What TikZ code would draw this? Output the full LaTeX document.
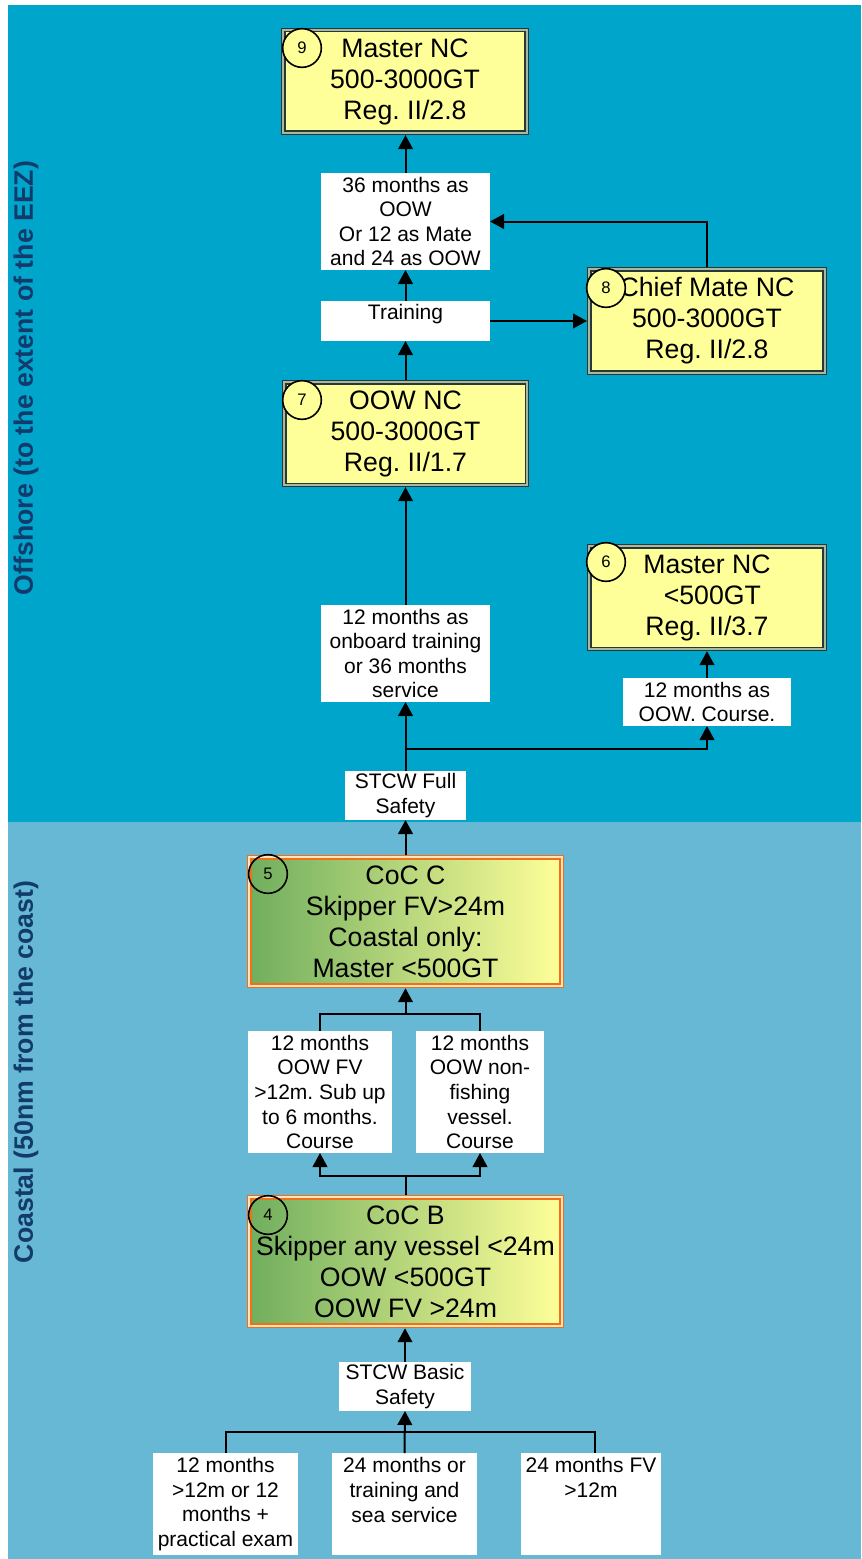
\documentclass[tikz,border=0pt]{standalone}
\usepackage{fontspec}
\setmainfont{Liberation Sans}
\usetikzlibrary{arrows.meta}
\definecolor{bgtop}{RGB}{0,165,204}
\definecolor{bgbot}{RGB}{102,184,212}
\definecolor{boxy}{RGB}{255,255,153}
\definecolor{boxline}{RGB}{40,56,56}
\definecolor{boxgap}{RGB}{170,184,160}
\definecolor{orng}{RGB}{240,112,24}
\definecolor{orgap}{RGB}{255,228,190}
\definecolor{grn}{RGB}{112,174,94}
\definecolor{grmid}{RGB}{218,230,140}
\definecolor{navy}{RGB}{18,58,106}
\frenchspacing
\begin{document}
\begin{tikzpicture}[x=0.75pt,y=-0.75pt,
  ybox/.style={rectangle, draw=boxline, line width=1.1pt, double=boxgap, double distance=1.3pt,
    fill=boxy, inner sep=0pt, outer sep=1.75pt, align=center,
    font=\fontsize{20}{23.25}\selectfont},
  obox/.style={rectangle, draw=orng, line width=1.2pt, double=orgap, double distance=1.2pt,
    left color=grn, middle color=grmid, right color=boxy, inner sep=0pt, outer sep=1.8pt, align=center,
    font=\fontsize{20}{23.25}\selectfont},
  wbox/.style={rectangle, fill=white, inner sep=0pt, outer sep=0pt, align=center,
    font=\fontsize{15.75}{18.4}\selectfont},
  wtext/.style={inner sep=0pt, align=center, font=\fontsize{15.75}{18.4}\selectfont},
  numc/.style={circle, draw=black, line width=1.2pt, minimum size=29pt, inner sep=0pt,
    font=\fontsize{12.5}{14}\selectfont},
  side/.style={rotate=90, text=navy, font=\fontsize{20}{24}\selectfont\bfseries},
  conn/.style={draw=black, line width=1.5pt},
  arr/.style={conn, -{Triangle[length=10.5pt,width=11pt]}}
]
\useasboundingbox (0,0) rectangle (861,1559);
% backgrounds
\fill[bgtop] (8,5) rectangle (861,822);
\fill[bgbot] (8,822) rectangle (861,1559);
% side texts
\node[side] (offshore) at (26,378) {Offshore (to the extent of the EEZ)};
\node[side] (coastal) at (26,1072) {Coastal (50nm from the coast)};

% certificate boxes
\node[ybox, minimum width=182.5pt, minimum height=77pt] (b9) at (405,81.5)
  {Master NC\\500-3000GT\\Reg. II/2.8};
\node[ybox, minimum width=176.5pt, minimum height=77.5pt] (b8) at (707,321)
  {Chief Mate NC\\500-3000GT\\Reg. II/2.8};
\node[ybox, minimum width=182pt, minimum height=77pt] (b7) at (405.5,433.5)
  {OOW NC\\500-3000GT\\Reg. II/1.7};
\node[ybox, minimum width=176.5pt, minimum height=77pt] (b6) at (707,597.5)
  {Master NC\\\hspace*{8pt}<500GT\\Reg. II/3.7};
\node[obox, minimum width=234.5pt, minimum height=96.5pt] (b5) at (405.5,921.5)
  {CoC C\\Skipper FV>24m\\Coastal only:\\Master <500GT};
\node[obox, minimum width=234.5pt, minimum height=96.5pt] (b4) at (405.5,1261.5)
  {CoC B\\Skipper any vessel <24m\\OOW <500GT\\OOW FV >24m};

% number circles
\node[numc, fill=boxy] (c9) at (302,48) {9};
\node[numc, fill=boxy] (c8) at (606,288) {8};
\node[numc, fill=boxy] (c7) at (302,400) {7};
\node[numc, fill=boxy] (c6) at (606,562) {6};
\node[numc] (c5) at (268,874) {5};
\node[numc] (c4) at (268,1215) {4};

% white label boxes
\node[wbox, minimum width=126.75pt, minimum height=72.75pt] (l36) at (405.5,221.5)
  {36 months as\\OOW\\Or 12 as Mate\\and 24 as OOW};
\node[wbox, minimum width=126.75pt, minimum height=30pt] (train) at (405.5,321) {};
\node[wtext] (trainT) at (405.5,314) {Training};
\node[wbox, minimum width=126.75pt, minimum height=72.75pt] (l12) at (405.5,653.5)
  {12 months as\\onboard training\\or 36 months\\service};
\node[wbox, minimum width=126pt, minimum height=36pt] (lOOW) at (707,702)
  {12 months as\\OOW. Course.};
\node[wbox, minimum width=90.75pt, minimum height=36.75pt] (stF) at (405.5,795.5)
  {STCW Full\\Safety};
\node[wbox, minimum width=108pt, minimum height=91.5pt] (lA) at (320,1092)
  {12 months\\OOW FV\\>12m. Sub up\\to 6 months.\\Course};
\node[wbox, minimum width=96pt, minimum height=91.5pt] (lB) at (480,1092)
  {12 months\\OOW non-\\fishing\\vessel.\\Course};
\node[wbox, minimum width=99pt, minimum height=36.75pt] (stB) at (405,1386.5)
  {STCW Basic\\Safety};
\node[wbox, minimum width=108.75pt, minimum height=76.5pt] (bA) at (225.5,1504)
  {12 months\\>12m or 12\\months +\\practical exam};
\node[wbox, minimum width=108.75pt, minimum height=76.5pt] (bB) at (404.5,1504) {};
\node[wtext] (bBT) at (404.5,1490) {24 months or\\training and\\sea service};
\node[wbox, minimum width=105pt, minimum height=76.5pt] (bC) at (591,1504) {};
\node[wtext] (bCT) at (591,1477.5) {24 months FV\\>12m};

% connectors (offshore)
\draw[arr] (l36.north) -- (l36.north |- b9.south);
\draw[arr] (train.north) -- (l36.south);
\draw[arr] (b7.north -| train.north) -- (train.south);
\draw[arr] (train.east) -- (train.east -| b8.west);
\draw[arr] (b8.north) |- (l36.east);
\draw[arr] (l12.north) -- (l12.north |- b7.south);
\draw[arr] (stF.north) -- (l12.south);
\coordinate (j1) at (405.5,749);
\draw[arr] (j1) -| (lOOW.south);
\draw[arr] (lOOW.north) -- (b6.south);
\draw[arr] (b5.north) -- (stF.south);
% coastal
\coordinate (t5) at (405.5,1014);
\draw[conn] (lA.north) |- (t5) -| (lB.north);
\draw[arr] (t5) -- (b5.south);
\coordinate (t4) at (405.5,1176);
\draw[conn] (b4.north) -- (t4);
\draw[arr] (t4) -| (lA.south);
\draw[arr] (t4) -| (lB.south);
\draw[arr] (stB.north) -- (stB.north |- b4.south);
\coordinate (t3) at (404.5,1432);
\draw[conn] (bA.north) |- (t3) -| ([xshift=3]bC.north);
\draw[arr] (bB.north) -- (stB.south);
\end{tikzpicture}
\end{document}
